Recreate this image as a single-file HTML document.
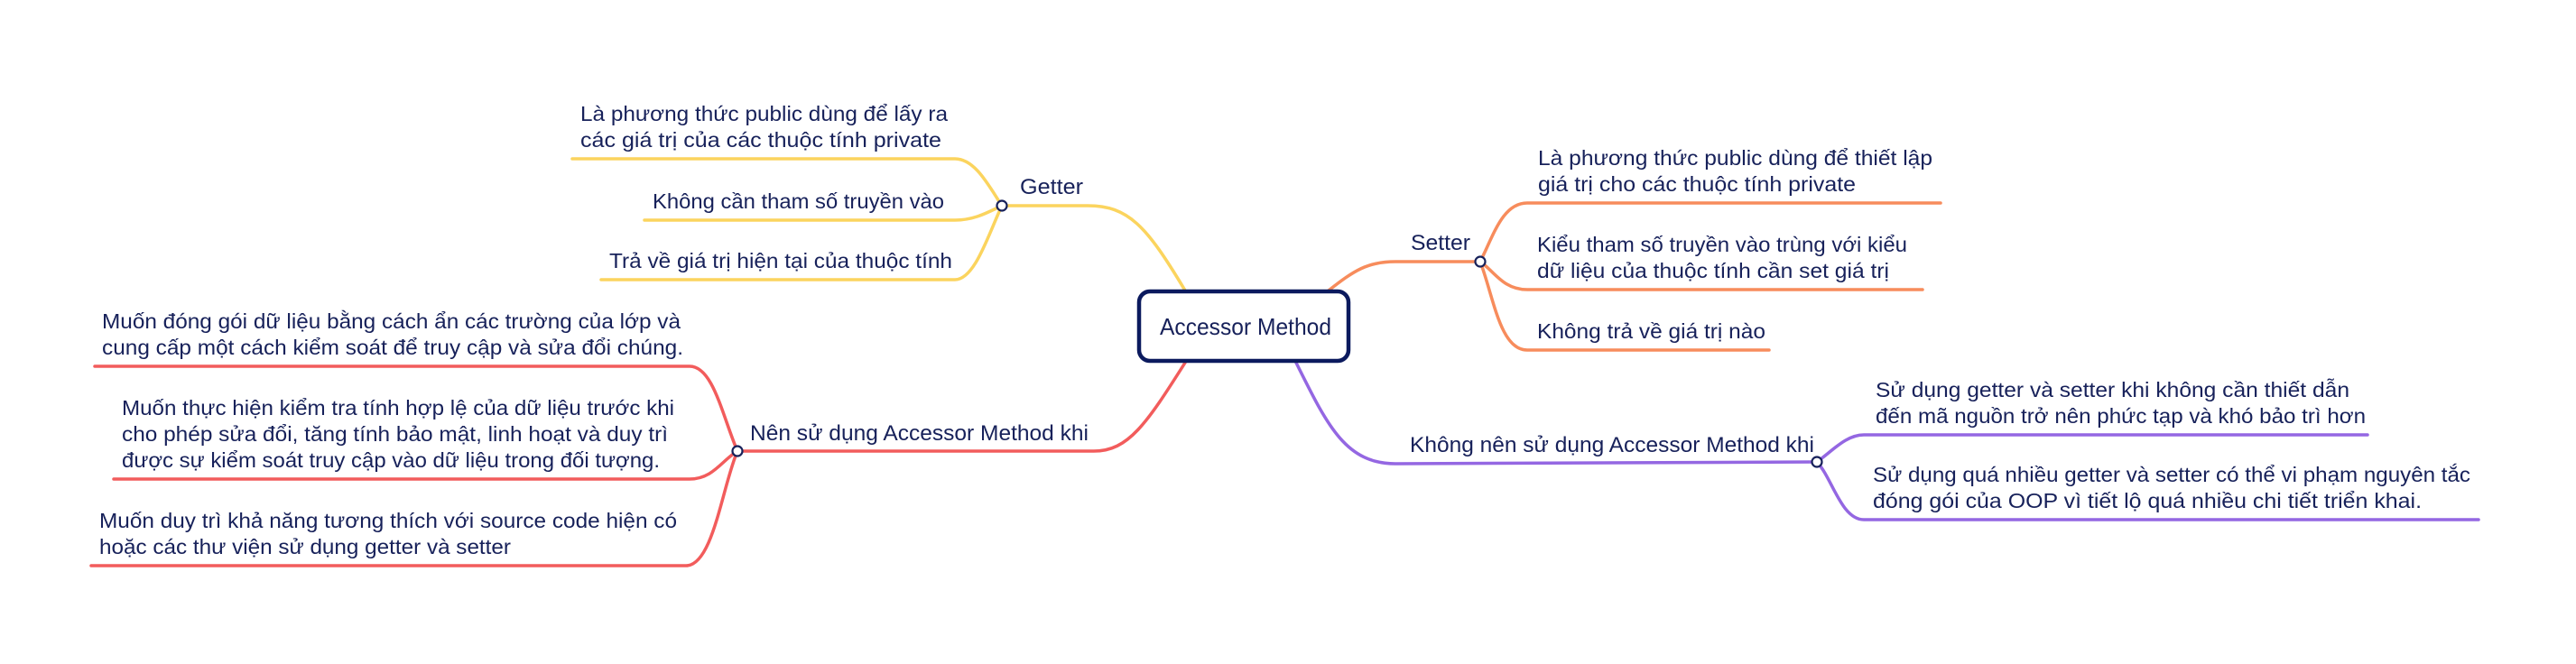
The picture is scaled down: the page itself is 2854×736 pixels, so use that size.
<!DOCTYPE html>
<html><head><meta charset="utf-8"><style>
html,body{margin:0;padding:0;background:#fff;}
svg{display:block;}
text{font-family:"Liberation Sans","DejaVu Sans",sans-serif;fill:#17215a;font-size:23.5px;}
.b{font-size:24px;}
</style></head><body>
<svg width="2854" height="736" viewBox="0 0 2854 736" xmlns="http://www.w3.org/2000/svg">
<g fill="none" stroke-width="3.5" stroke-linecap="round">
<g stroke="#fbd45e">
<path d="M1313 322 C1270 250 1250 228 1205 228 L1110 228"/>
<path d="M1110 228 C1095 205 1080 176 1058 176 L634 176"/>
<path d="M1110 228 C1095 235 1080 244 1058 244 L714 244"/>
<path d="M1110 228 C1095 260 1080 310 1058 310 L666 310"/>
</g>
<g stroke="#f25c5c">
<path d="M1313 402 C1270 470 1250 500 1212 500 L817 500"/>
<path d="M817 500 C800 460 790 406 764 406 L105 406"/>
<path d="M817 500 C800 510 790 531 764 531 L126 531"/>
<path d="M817 500 C800 540 790 627 760 627 L101 627"/>
</g>
<g stroke="#f78c5c">
<path d="M1472 322 C1500 300 1515 290 1546 290 L1640 290"/>
<path d="M1640 290 C1655 260 1665 225 1692 225 L2150 225"/>
<path d="M1640 290 C1655 300 1665 321 1692 321 L2130 321"/>
<path d="M1640 290 C1655 330 1662 388 1692 388 L1960 388"/>
</g>
<g stroke="#9467e2">
<path d="M1436 402 C1470 470 1490 514 1546 514 L2013 512"/>
<path d="M2013 512 C2030 500 2045 482 2065 482 L2623 482"/>
<path d="M2013 512 C2030 530 2040 576 2065 576 L2746 576"/>
</g>
</g>
<g fill="#fff" stroke="#17215a" stroke-width="2.2">
<circle cx="1110" cy="228" r="5.5"/>
<circle cx="817" cy="500" r="5.5"/>
<circle cx="1640" cy="290" r="5.5"/>
<circle cx="2013" cy="512" r="5.5"/>
</g>
<rect x="1262" y="323" width="232" height="77" rx="12" fill="#fff" stroke="#0b1a5e" stroke-width="4.5"/>
<text x="1285" y="371" textLength="190" lengthAdjust="spacingAndGlyphs" style="font-size:26px">Accessor Method</text>

<g>
<text class="b" x="1130" y="215" textLength="70" lengthAdjust="spacingAndGlyphs">Getter</text>
<text class="b" x="831" y="488" textLength="375" lengthAdjust="spacingAndGlyphs">Nên sử dụng Accessor Method khi</text>
<text class="b" x="1563" y="277" textLength="66" lengthAdjust="spacingAndGlyphs">Setter</text>
<text class="b" x="1562" y="501" textLength="448" lengthAdjust="spacingAndGlyphs">Không nên sử dụng Accessor Method khi</text>

<text x="643" y="134" textLength="407" lengthAdjust="spacingAndGlyphs">Là phương thức public dùng để lấy ra</text>
<text x="643" y="163" textLength="400" lengthAdjust="spacingAndGlyphs">các giá trị của các thuộc tính private</text>
<text x="723" y="231" textLength="323" lengthAdjust="spacingAndGlyphs">Không cần tham số truyền vào</text>
<text x="675" y="297" textLength="380" lengthAdjust="spacingAndGlyphs">Trả về giá trị hiện tại của thuộc tính</text>

<text x="113" y="364" textLength="641" lengthAdjust="spacingAndGlyphs">Muốn đóng gói dữ liệu bằng cách ẩn các trường của lớp và</text>
<text x="113" y="393" textLength="644" lengthAdjust="spacingAndGlyphs">cung cấp một cách kiểm soát để truy cập và sửa đổi chúng.</text>
<text x="135" y="460" textLength="612" lengthAdjust="spacingAndGlyphs">Muốn thực hiện kiểm tra tính hợp lệ của dữ liệu trước khi</text>
<text x="135" y="489" textLength="605" lengthAdjust="spacingAndGlyphs">cho phép sửa đổi, tăng tính bảo mật, linh hoạt và duy trì</text>
<text x="135" y="518" textLength="596" lengthAdjust="spacingAndGlyphs">được sự kiểm soát truy cập vào dữ liệu trong đối tượng.</text>
<text x="110" y="585" textLength="640" lengthAdjust="spacingAndGlyphs">Muốn duy trì khả năng tương thích với source code hiện có</text>
<text x="110" y="614" textLength="456" lengthAdjust="spacingAndGlyphs">hoặc các thư viện sử dụng getter và setter</text>

<text x="1704" y="183" textLength="437" lengthAdjust="spacingAndGlyphs">Là phương thức public dùng để thiết lập</text>
<text x="1704" y="212" textLength="352" lengthAdjust="spacingAndGlyphs">giá trị cho các thuộc tính private</text>
<text x="1703" y="279" textLength="410" lengthAdjust="spacingAndGlyphs">Kiểu tham số truyền vào trùng với kiểu</text>
<text x="1703" y="308" textLength="390" lengthAdjust="spacingAndGlyphs">dữ liệu của thuộc tính cần set giá trị</text>
<text x="1703" y="375" textLength="253" lengthAdjust="spacingAndGlyphs">Không trả về giá trị nào</text>

<text x="2078" y="440" textLength="525" lengthAdjust="spacingAndGlyphs">Sử dụng getter và setter khi không cần thiết dẫn</text>
<text x="2078" y="469" textLength="543" lengthAdjust="spacingAndGlyphs">đến mã nguồn trở nên phức tạp và khó bảo trì hơn</text>
<text x="2075" y="534" textLength="662" lengthAdjust="spacingAndGlyphs">Sử dụng quá nhiều getter và setter có thể vi phạm nguyên tắc</text>
<text x="2075" y="563" textLength="608" lengthAdjust="spacingAndGlyphs">đóng gói của OOP vì tiết lộ quá nhiều chi tiết triển khai.</text>
</g>
</svg>
</body></html>
